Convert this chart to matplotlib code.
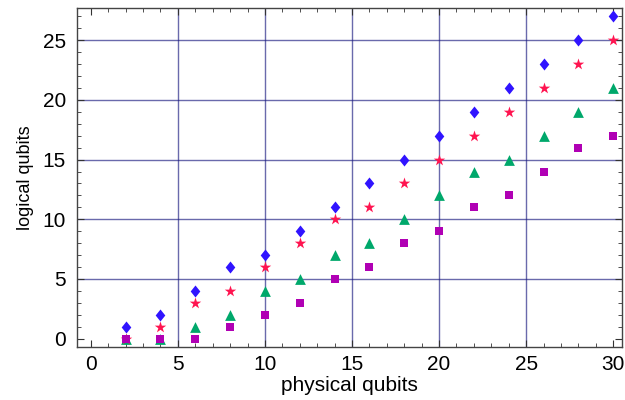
import matplotlib
matplotlib.use("Agg")
import matplotlib.pyplot as plt
from matplotlib.ticker import MultipleLocator
from matplotlib.path import Path

plt.rcParams["font.family"] = ["Liberation Sans", "DejaVu Sans"]

# ── Dados ─────────────────────────────────────────────────────────────────────
fisicos    = [2, 4, 6, 8, 10, 12, 14, 16, 18, 20, 22, 24, 26, 28, 30]
losangos   = [1, 2, 4, 6, 7, 9, 11, 13, 15, 17, 19, 21, 23, 25, 27]
estrelas   = [0, 1, 3, 4, 6, 8, 10, 11, 13, 15, 17, 19, 21, 23, 25]
triangulos = [0, 0, 1, 2, 4, 5, 7, 8, 10, 12, 14, 15, 17, 19, 21]
quadrados  = [0, 0, 0, 1, 2, 3, 5, 6, 8, 9, 11, 12, 14, 16, 17]

AZUL     = "#3014ff"
VERMELHO = "#ff1450"
VERDE    = "#00a86b"
MAGENTA  = "#b000b4"
GRADE    = "#1a1a80"

# losango um pouco mais largo que o "d" padrão
LOSANGO = Path([(0, 1), (0.8, 0), (0, -1), (-0.8, 0), (0, 1)],
               [Path.MOVETO, Path.LINETO, Path.LINETO, Path.LINETO, Path.CLOSEPOLY])

fig = plt.figure(figsize=(6.25, 4), dpi=100)
ax = fig.add_axes([0.123, 0.1325, 0.872, 0.8475])

ax.grid(True, which="major", color=GRADE, linewidth=1.0, alpha=0.65, zorder=0)

ax.scatter(fisicos, triangulos, marker="^", s=60, color=VERDE, zorder=3, linewidths=0)
ax.scatter(fisicos, quadrados, marker="s", s=38, color=MAGENTA, zorder=4, linewidths=0)
ax.scatter(fisicos, estrelas, marker="*", s=75, color=VERMELHO, zorder=3, linewidths=0)
ax.scatter(fisicos, losangos, marker=LOSANGO, s=75, color=AZUL, zorder=3, linewidths=0)

ax.set_xlim(-0.8, 30.5)
ax.set_ylim(-0.7, 27.7)
ax.xaxis.set_major_locator(MultipleLocator(5))
ax.xaxis.set_minor_locator(MultipleLocator(1))
ax.yaxis.set_major_locator(MultipleLocator(5))
ax.yaxis.set_minor_locator(MultipleLocator(1))
ax.tick_params(which="both", direction="in", top=True, right=True,
               labelsize=15, colors="#333333", labelcolor="black")
ax.tick_params(which="major", length=5)
ax.tick_params(which="minor", length=3)
ax.tick_params(axis="x", pad=6)
ax.tick_params(axis="y", pad=8)
for s in ax.spines.values():
    s.set_color("#444444")
    s.set_linewidth(1.0)

# sem linha de grade sobre as bordas (0 e 30)
fig.canvas.draw()
for tick in ax.xaxis.get_major_ticks():
    if tick.get_loc() in (0, 30):
        tick.gridline.set_visible(False)
for tick in ax.yaxis.get_major_ticks():
    if tick.get_loc() == 0:
        tick.gridline.set_visible(False)

ax.set_xlabel("physical qubits", fontsize=15, labelpad=1)
ax.set_ylabel("logical qubits", fontsize=13, labelpad=6)

plt.savefig("out.png", dpi=100)
